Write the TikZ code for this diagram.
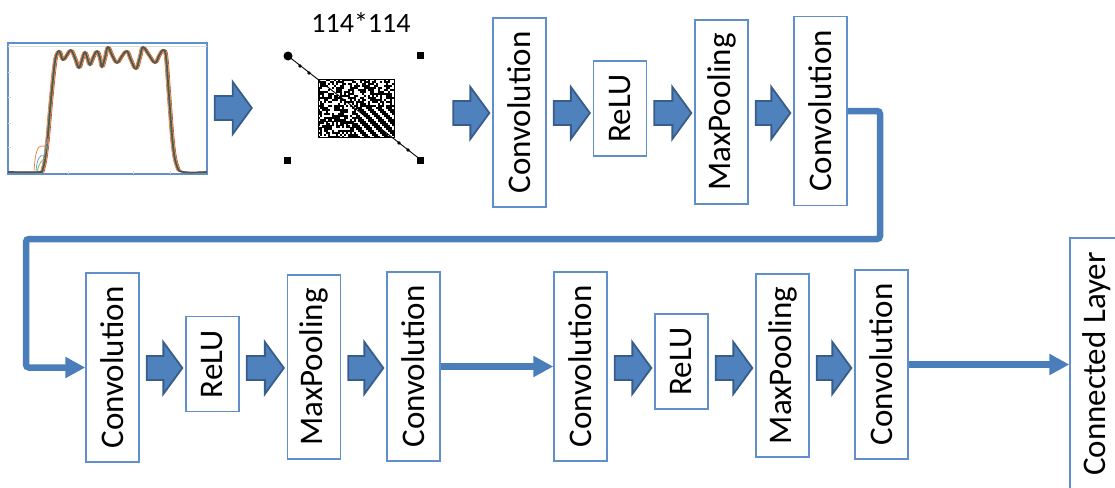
\documentclass[tikz,border=0pt]{standalone}
\usepackage{fontspec}
\setmainfont{Carlito}
\usepackage{graphicx}
\usetikzlibrary{calc,arrows.meta}

\definecolor{boxline}{RGB}{96,143,203}
\definecolor{connblue}{RGB}{74,126,187}
\definecolor{arrfill}{RGB}{79,129,189}
\definecolor{arrline}{RGB}{56,93,138}
\definecolor{c1}{RGB}{237,125,49}
\definecolor{c2}{RGB}{91,155,213}
\definecolor{c3}{RGB}{112,173,71}
\definecolor{c4}{RGB}{230,60,50}
\definecolor{c5}{RGB}{255,192,0}
\definecolor{c6}{RGB}{85,85,75}

\tikzset{
  layer/.style={draw=boxline, line width=1.3pt, fill=white, minimum width=53pt,
                inner sep=0pt, font=\fontsize{33}{39}\selectfont},
  tall/.style={layer, minimum height=189pt},
  pool/.style={layer, minimum height=184pt},
  short/.style={layer, minimum height=95pt},
  conn/.style={draw=connblue, line width=6.5pt, rounded corners=3pt,
               -{Triangle[length=20pt,width=20pt]}},
  fatarr/.style={draw=arrline, fill=arrfill, line width=1.8pt, line join=miter},
}

% thick block arrow between two nodes, at the height of a given row
\newcommand\fatarrow[3]{%
  \path[fatarr] let \p1=($(#1.east |- #3)+(7,0)$), \p2=($(#2.west |- #3)+(-3,0)$) in
    (\x1,\y1+12pt) -- (\x2-19pt,\y1+12pt) -- (\x2-19pt,\y1+26pt) -- (\x2,\y1)
    -- (\x2-19pt,\y1-26pt) -- (\x2-19pt,\y1-12pt) -- (\x1,\y1-12pt) -- cycle;}

\begin{document}
\begin{tikzpicture}[x=1pt,y=-1pt]
\useasboundingbox (0,0) rectangle (1115,487);

% rows used for the block arrows
\coordinate (r0) at (0,108);
\coordinate (r1) at (0,113);
\coordinate (r2) at (0,368);

% ---------- input spectra plot ----------
\node[draw=boxline, line width=1.3pt, minimum width=199pt, minimum height=131pt,
      inner sep=0pt] (plot) at (107.5,108.5) {};
\begin{scope}
  \clip (8,43) rectangle (207,174);
  \draw[black!12, line width=0.8pt] (8,46) -- (207,46);
  \foreach \yy in {72,97,123,147} \draw[black!15, line width=0.6pt] (8,\yy) -- (11,\yy);
  \foreach \xx in {68,133,170} \draw[black!15, line width=0.6pt] (\xx,174) -- (\xx,171);
  % individual spectra, slightly offset, with the mean drawn last
  \foreach \dx/\col/\w in {1.8/c4/0.7, -1.2/c2/0.7, 1.0/c3/0.7, -1.8/c1/0.7, 0.6/c5/0.7, -0.5/c2!60!black/0.7, 0/c6/1.7}{
    \draw[\col, line width=\w pt, xshift=\dx pt] plot[smooth, tension=0.6] coordinates {
      (8,172) (38,172) (43,169) (47,145) (51,100) (55,62) (58,52) (60,52) (63,60)
      (67,55) (71,50) (75,58) (79,68) (82,60) (85,52) (88,60) (90,65) (93,58)
      (97,51) (100,58) (102,67) (105,58) (108,47) (112,55) (117,63) (122,56)
      (127,51) (131,60) (136,69) (140,57) (143,47) (149,55) (155,63) (159,56)
      (163,50) (166,56) (169,95) (173,145) (177,166) (183,172) (207,172)};
  }
  \draw[c1, line width=0.7pt] (34,172) .. controls (35,152) and (38,145) .. (42,146)
        .. controls (45,147) and (46,146) .. (48,138);
  \draw[c2, line width=0.7pt] (36,172) .. controls (37,158) and (40,154) .. (44,156)
        .. controls (45,154) and (46,150) .. (48,140);
  \draw[c3, line width=0.7pt] (37,172) .. controls (39,163) and (42,160) .. (45,158);
\end{scope}

% ---------- 114*114 image ----------
\node[minimum width=191pt, minimum height=130pt, inner sep=0pt] (mat) at (350.5,108) {};
\node[font=\fontsize{28}{34}\selectfont] (size) at (361,23) {114*114};
\draw[black, line width=0.9pt] (288,56) -- (421,160);
\pgfmathsetseed{17}
\foreach \c in {0,...,37}{
  \foreach \r in {0,...,28}{
    \pgfmathsetmacro\v{rnd}
    \pgfmathtruncatemacro\s{(\c>18 && \r>13) ? (mod(\c-\r+80,5)<3 ? 1 : 0) : (\v<0.6 ? 1 : 0)}
    \ifnum\s=1 \fill[black] (318+\c*2,79+\r*2.02) rectangle ++(2.1,2.1); \fi
  }}
\draw[black, line width=1pt] (318,79) rectangle (394,137.5);
\fill[black] (288,56) circle (4.5pt);
\fill[black] (417,52) rectangle (424,59);
\fill[black] (284,157) rectangle (291,164);
\fill[black] (417,157) rectangle (424,164);
\foreach \p in {(300,66),(309,73),(399,143),(408,150)}
  \fill[black] \p circle (1.8pt);

% ---------- first row of layers ----------
\node[tall]  (conv1) at (519.5,112.5) {\rotatebox{90}{Convolution}};
\node[short] (relu1) at (620,108.5)   {\rotatebox{90}{ReLU}};
\node[pool]  (mp1)   at (721.5,112)   {\rotatebox{90}{MaxPooling}};
\node[tall]  (conv2) at (820.5,111)   {\rotatebox{90}{Convolution}};

% ---------- second row of layers ----------
\node[tall]  (conv3) at (112.5,367.5) {\rotatebox{90}{Convolution}};
\node[short] (relu2) at (212.5,364)   {\rotatebox{90}{ReLU}};
\node[pool]  (mp2)   at (314,367)     {\rotatebox{90}{MaxPooling}};
\node[tall]  (conv4) at (413.5,366.5) {\rotatebox{90}{Convolution}};
\node[tall]  (conv5) at (580.5,366.5) {\rotatebox{90}{Convolution}};
\node[short] (relu3) at (681.5,361.5) {\rotatebox{90}{ReLU}};
\node[pool, minimum height=183pt] (mp3) at (782.5,365.5) {\rotatebox{90}{MaxPooling}};
\node[tall]  (conv6) at (881.5,364.5) {\rotatebox{90}{Convolution}};
\node[layer, minimum width=54pt, minimum height=252pt] (fc) at (1097,364)
     {\rotatebox{90}{Connected Layer}};

% ---------- block arrows ----------
\fatarrow{plot}{mat}{r0}
\fatarrow{mat}{conv1}{r1}
\fatarrow{conv1}{relu1}{r1}
\fatarrow{relu1}{mp1}{r1}
\fatarrow{mp1}{conv2}{r1}
\fatarrow{conv3}{relu2}{r2}
\fatarrow{relu2}{mp2}{r2}
\fatarrow{mp2}{conv4}{r2}
\fatarrow{conv5}{relu3}{r2}
\fatarrow{relu3}{mp3}{r2}
\fatarrow{mp3}{conv6}{r2}

% ---------- line connectors ----------
\coordinate (k1) at (880,239);
\coordinate (k2) at (26,239);
\draw[conn] (conv2.east) -| (k1) -- (k2) |- (conv3.west);
\draw[conn] (conv4.east) -- (conv5.west);
\draw[conn] (conv6.east) -- (conv6.east -| fc.west);
\end{tikzpicture}
\end{document}
